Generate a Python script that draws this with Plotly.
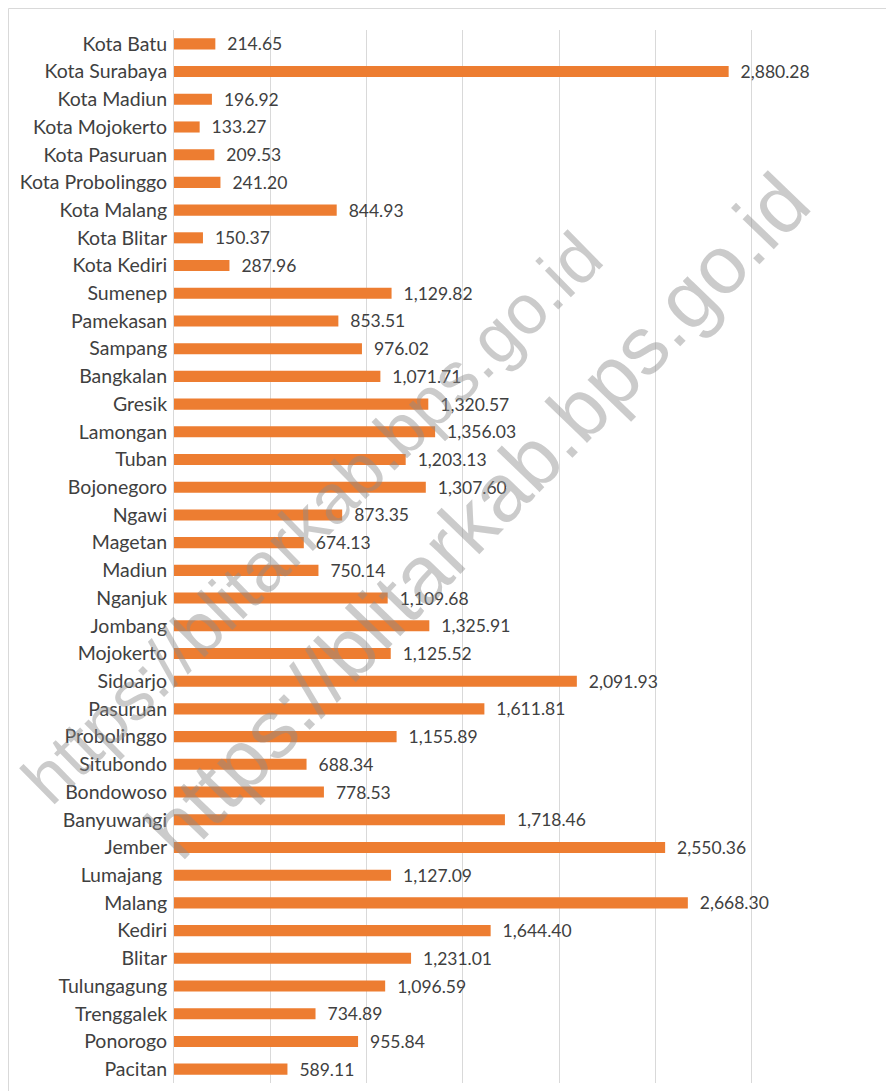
import plotly.graph_objects as go

regions = ["Kota Batu", "Kota Surabaya", "Kota Madiun", "Kota Mojokerto", "Kota Pasuruan",
           "Kota Probolinggo", "Kota Malang", "Kota Blitar", "Kota Kediri", "Sumenep",
           "Pamekasan", "Sampang", "Bangkalan", "Gresik", "Lamongan", "Tuban", "Bojonegoro",
           "Ngawi", "Magetan", "Madiun", "Nganjuk", "Jombang", "Mojokerto", "Sidoarjo",
           "Pasuruan", "Probolinggo", "Situbondo", "Bondowoso", "Banyuwangi", "Jember",
           "Lumajang\u00a0", "Malang", "Kediri", "Blitar", "Tulungagung", "Trenggalek",
           "Ponorogo", "Pacitan"]
values = [214.65, 2880.28, 196.92, 133.27, 209.53, 241.20, 844.93, 150.37, 287.96, 1129.82,
          853.51, 976.02, 1071.71, 1320.57, 1356.03, 1203.13, 1307.60, 873.35, 674.13, 750.14,
          1109.68, 1325.91, 1125.52, 2091.93, 1611.81, 1155.89, 688.34, 778.53, 1718.46, 2550.36,
          1127.09, 2668.30, 1644.40, 1231.01, 1096.59, 734.89, 955.84, 589.11]
x_ticks = [0, 500, 1000, 1500, 2000, 2500, 3000, 3500]
watermark = "https://blitarkab.bps.go.id"

# page has an 8px body margin; target coords are shifted by -8
W, H = 886, 1083
L, R, T, B = 166, 840, 22, 1075  # plot area edges in page pixels
pw, ph = R - L, B - T

def px(x):
    return (x - 8 - L) / pw

def py(y):
    return (B - (y - 8)) / ph

fig = go.Figure(go.Bar(
    x=values, y=regions, orientation="h",
    marker=dict(color="#ED7D31", line=dict(width=0)),
    text=["\u00a0\u00a0" + f"{v:,.2f}" for v in values],
    textposition="outside", cliponaxis=False, constraintext="none",
    textfont=dict(family="Lato, Calibri, sans-serif", size=17.5, color="#404040"),
))

fig.update_layout(
    width=W, height=H,
    margin=dict(l=L, r=W - R, t=T, b=H - B),
    paper_bgcolor="white", plot_bgcolor="white",
    bargap=0.6, showlegend=False,
    font=dict(family="Lato, Calibri, sans-serif", size=19.5, color="#404040"),
    xaxis=dict(range=[0, 3500], tickvals=x_ticks, showticklabels=False,
               showgrid=True, gridcolor="#d9d9d9", gridwidth=1, zeroline=False,
               showline=False, fixedrange=True),
    yaxis=dict(autorange="reversed", showgrid=False, showline=True, linecolor="#d9d9d9",
               linewidth=1, ticks="", tickfont=dict(size=19.5, color="#404040"),
               ticklabelstandoff=2),
    shapes=[dict(type="rect", xref="paper", yref="paper",
                 x0=(0.5 - L) / pw, x1=px(910), y0=py(1100), y1=(B - 0.5) / ph,
                 line=dict(color="#d9d9d9", width=1), fillcolor="rgba(0,0,0,0)", layer="below")],
    annotations=[
        dict(text=watermark, xref="paper", yref="paper",
             x=px(312), y=py(518), xanchor="center", yanchor="middle", showarrow=False,
             textangle=-44.5, font=dict(family="Arial, Liberation Sans, sans-serif", size=70,
                                        color="rgba(140,140,140,0.45)")),
        dict(text=watermark, xref="paper", yref="paper",
             x=px(477), y=py(515), xanchor="center", yanchor="middle", showarrow=False,
             textangle=-46, font=dict(family="Arial, Liberation Sans, sans-serif", size=82,
                                      color="rgba(140,140,140,0.45)")),
    ],
)

fig.write_html("out.html")
